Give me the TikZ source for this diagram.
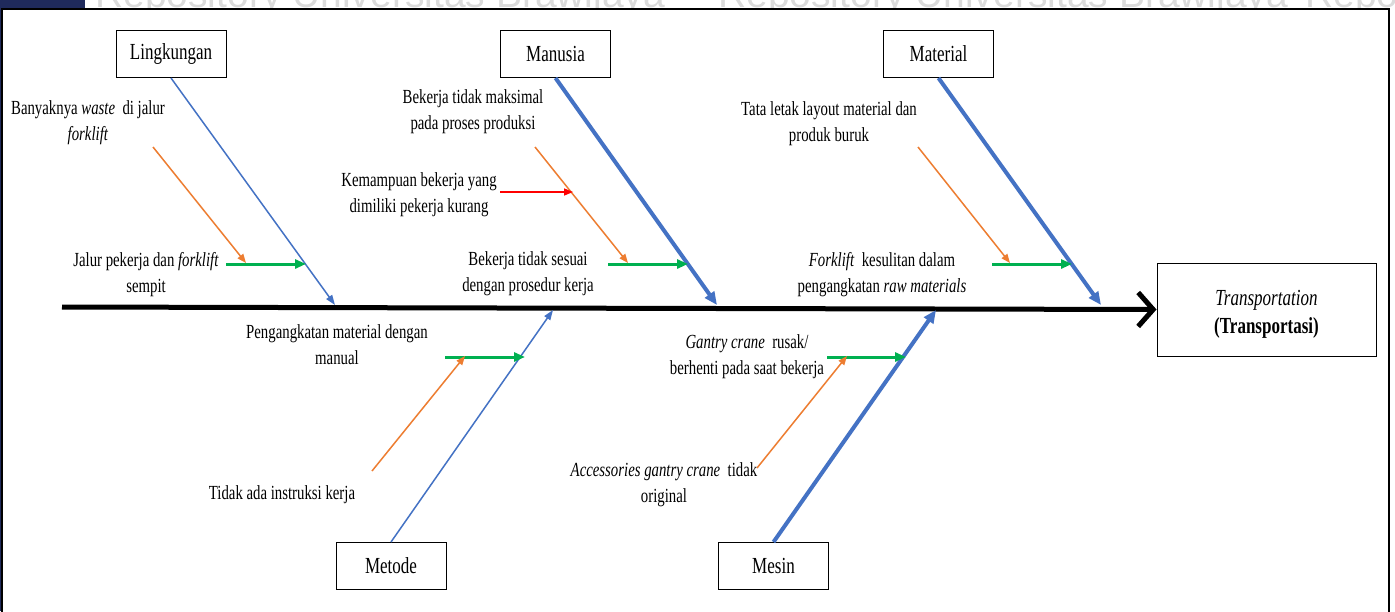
\documentclass[tikz,border=0pt]{standalone}
\usepackage{fontspec}
\setmainfont{Liberation Serif}[FakeStretch=0.74]
\newfontfamily\wmfont{Liberation Sans}
\usetikzlibrary{arrows.meta}
\definecolor{bone}{HTML}{4472C4}
\definecolor{cause}{HTML}{ED7D31}
\definecolor{subc}{HTML}{00B050}
\definecolor{rootc}{HTML}{FF0000}
\definecolor{navy}{HTML}{1F2A5C}

\begin{document}
\begin{tikzpicture}[x=1pt,y=-1pt,
  catbox/.style={draw=black,line width=1pt,fill=white,minimum width=110pt,
    minimum height=47pt,inner sep=0pt,font=\fontsize{23}{27}\selectfont},
  effbox/.style={draw=black,line width=1pt,fill=white,minimum width=219pt,
    minimum height=93pt,inner sep=0pt},
  efftext/.style={align=center,inner sep=0pt,font=\fontsize{23}{28}\selectfont},
  lbl/.style={align=center,inner sep=0pt,font=\fontsize{20}{26}\selectfont},
  thinbone/.style={draw=bone,line width=1.5pt,-{Triangle[length=10pt,width=7pt]}},
  thickbone/.style={draw=bone,line width=4pt,-{Triangle[length=13pt,width=11pt]}},
  subarrow/.style={draw=subc,line width=3pt,-{Triangle[length=11pt,width=9pt]}},
  causearrow/.style={draw=cause,line width=1.5pt,-{Triangle[length=9pt,width=7pt]}},
  rootarrow/.style={draw=rootc,line width=1.5pt,-{Triangle[length=9pt,width=7pt]}},
  spine/.style={draw=black,line width=5pt,-{Straight Barb[length=15pt,width=34pt]}}
]
\useasboundingbox (0,0) rectangle (1395,611);
\clip (0,0) rectangle (1395,611);

% page background, watermark strip and outer frame
\fill[white] (0,0) rectangle (1395,611);
\begin{scope}
  \clip (0,0) rectangle (1395,9);
  \foreach \wx in {95,718,1305}
    \node[anchor=base west,inner sep=0pt,text=black!14,font=\wmfont\fontsize{39}{39}\selectfont]
      at (\wx,7) {Repository Universitas Brawijaya};
\end{scope}
\fill[navy] (0,0) rectangle (85,9);
\fill[navy] (0,0) rectangle (2,611);
\draw[line width=2.5pt] (2,9) rectangle (1389,640);

% effect and category boxes
\node[effbox] (eff) at (1266.5,309.5) {};
\node[efftext] (efft) at ([yshift=-5pt]eff.center) {\textit{Transportation}\\\textbf{(Transportasi)}};
\node[catbox] (lingk) at (171,54) {Lingkungan};
\node[catbox] (manu)  at (555.5,54) {Manusia};
\node[catbox] (mat)   at (938.5,54) {Material};
\node[catbox] (metd)  at (391,566) {Metode};
\node[catbox] (mesin) at (773.5,566) {Mesin};

% spine
\coordinate (s0) at (62,307);
\draw[spine] (s0) -- (eff.west);

% bone end points on the spine
\coordinate (bL) at (335,305);
\coordinate (bMa) at (717,305);
\coordinate (bMt) at (1101,305);
\coordinate (bMe) at (553,310);
\coordinate (bMs) at (936,310);

\draw[thinbone]  (lingk.south) -- (bL);
\draw[thickbone] (manu.south)  -- (bMa);
\draw[thickbone] (mat.south)   -- (bMt);
\draw[thinbone]  (metd.north)  -- (bMe);
\draw[thickbone] (mesin.north) -- (bMs);

% cause labels
\node[lbl] (t1)  at (88,123)  {Banyaknya \textit{waste}\ \ di jalur\\\textit{forklift}};
\node[lbl] (t2)  at (146,275) {Jalur pekerja dan \textit{forklift}\\sempit};
\node[lbl] (t3)  at (473,112) {Bekerja tidak maksimal\\pada proses produksi};
\node[lbl] (t4)  at (419,195) {Kemampuan bekerja yang\\dimiliki pekerja kurang};
\node[lbl] (t5)  at (528,274) {Bekerja tidak sesuai\\dengan prosedur kerja};
\node[lbl] (t6)  at (829,124) {Tata letak layout material dan\\produk buruk};
\node[lbl] (t7)  at (882,275) {\textit{Forklift}\ \ kesulitan dalam\\pengangkatan \textit{raw materials}};
\node[lbl] (t8)  at (337,345) {Pengangkatan material dengan\\manual};
\node[lbl] (t9)  at (282,495) {Tidak ada instruksi kerja};
\node[lbl] (t10) at (747,357) {\textit{Gantry crane}\ \ rusak/\\berhenti pada saat bekerja};
\node[lbl] (t11) at (664,485) {\textit{Accessories gantry crane}\ \ tidak\\original};

% Lingkungan branch
\coordinate (gL0) at (226,264);  \coordinate (gL1) at (306,264);
\coordinate (oL0) at (153,147);  \coordinate (oL1) at (246,263);
\draw[subarrow] (gL0) -- (gL1);
\draw[causearrow] (oL0) -- (oL1);

% Manusia branch
\coordinate (gM0) at (608,264);  \coordinate (gM1) at (688,264);
\coordinate (oM0) at (535,147);  \coordinate (oM1) at (628,263);
\coordinate (rM0) at (500,192);  \coordinate (rM1) at (573,192);
\draw[subarrow] (gM0) -- (gM1);
\draw[causearrow] (oM0) -- (oM1);
\draw[rootarrow] (rM0) -- (rM1);

% Material branch
\coordinate (gT0) at (992,264);  \coordinate (gT1) at (1072,264);
\coordinate (oT0) at (918,147);  \coordinate (oT1) at (1010,263);
\draw[subarrow] (gT0) -- (gT1);
\draw[causearrow] (oT0) -- (oT1);

% Metode branch
\coordinate (gD0) at (445,357);  \coordinate (gD1) at (525,357);
\coordinate (oD0) at (372,471);  \coordinate (oD1) at (465,356);
\draw[subarrow] (gD0) -- (gD1);
\draw[causearrow] (oD0) -- (oD1);

% Mesin branch
\coordinate (gS0) at (827,357);  \coordinate (gS1) at (906,357);
\coordinate (oS0) at (757,468);  \coordinate (oS1) at (847,356);
\draw[subarrow] (gS0) -- (gS1);
\draw[causearrow] (oS0) -- (oS1);
\end{tikzpicture}
\end{document}
